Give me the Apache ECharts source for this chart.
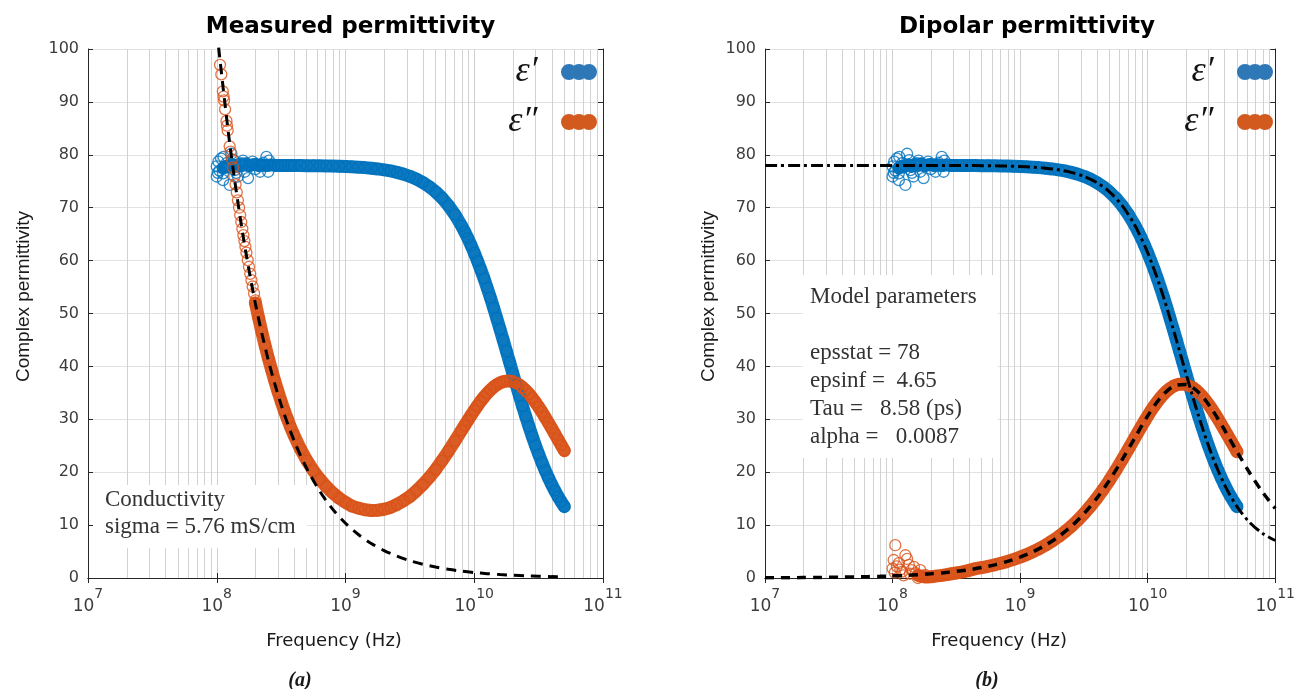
<!DOCTYPE html>
<html><head><meta charset="utf-8">
<script src="https://cdn.jsdelivr.net/npm/echarts@6/dist/echarts.min.js"></script>
<style>html,body{margin:0;padding:0;background:#fff}#c{width:1298px;height:689px}</style>
</head><body><div id="c"></div>
<script>
// ---------- data ----------
const bandFreq = [
 1.000e8, 1.059e8, 1.122e8, 1.189e8, 1.259e8, 1.334e8, 1.413e8, 1.496e8, 1.585e8, 1.679e8,
 1.778e8, 1.884e8, 1.995e8, 2.113e8, 2.239e8, 2.371e8, 2.512e8, 2.661e8, 2.818e8, 2.985e8,
 3.162e8, 3.350e8, 3.548e8, 3.758e8, 3.981e8,
 4.467e8, 5.012e8, 5.623e8, 6.310e8, 7.079e8, 7.943e8, 8.913e8, 1.000e9, 1.122e9, 1.259e9,
 1.413e9, 1.585e9, 1.778e9, 1.995e9, 2.239e9, 2.512e9, 2.818e9, 3.162e9, 3.548e9, 3.981e9,
 4.467e9, 5.012e9, 5.623e9, 6.310e9, 7.079e9,
 7.943e9, 8.414e9, 8.913e9, 9.441e9, 1.000e10, 1.059e10, 1.122e10, 1.189e10, 1.259e10, 1.334e10,
 1.413e10, 1.496e10, 1.585e10, 1.679e10, 1.778e10, 1.884e10, 1.995e10, 2.113e10, 2.239e10, 2.371e10,
 2.512e10, 2.661e10, 2.818e10, 2.985e10, 3.162e10, 3.350e10, 3.548e10, 3.758e10, 3.981e10, 4.217e10,
 4.467e10, 4.732e10, 5.012e10
];
const epsRealBand = [
 null, null, 77.5, 77.8, 77.9, 78.1, 77.8, 78.2, 78.0, 78.3, 77.9, 78.1, 78.2, 78.0, 78.1, 78.0, 78.0, 78.1, 78.0, 78.0,
 77.98, 77.97, 77.97, 77.96, 77.96,
 77.96, 77.95, 77.93, 77.92, 77.89, 77.87, 77.83, 77.79, 77.73, 77.66, 77.58, 77.47, 77.33, 77.16, 76.95,
 76.68, 76.35, 75.93, 75.41, 74.77, 73.98, 73.01, 71.83, 70.39, 68.68,
 66.63, 65.48, 64.24, 62.91, 61.48, 59.96, 58.35, 56.65, 54.87, 53.01, 51.08, 49.09, 47.05, 44.97, 42.87,
 40.76, 38.65, 36.57, 34.51, 32.49, 30.53, 28.64, 26.82, 25.08, 23.43, 21.86, 20.39, 19.02, 17.73, 16.54,
 15.44, 14.42, 13.49
];
const epsImagMeasBand = [
 null, null, null, null, null, null, null, null, null, null, null, null,
 52.0, 49.2, 46.5, 44.0, 41.6, 39.4, 37.3, 35.3, 33.4, 31.6, 30.0, 28.4, 27.0,
 24.4, 22.2, 20.3, 18.7, 17.3, 16.1, 15.1, 14.3, 13.6, 13.2, 12.9, 12.75, 12.8, 13.0, 13.35,
 13.9, 14.6, 15.4, 16.45, 17.65, 19.0, 20.5, 22.2, 24.0, 25.9,
 27.85, 28.82, 29.79, 30.75, 31.67, 32.56, 33.41, 34.19, 34.90, 35.54, 36.09, 36.54, 36.88, 37.11, 37.22,
 37.22, 37.10, 36.85, 36.50, 36.03, 35.46, 34.80, 34.05, 33.23, 32.34, 31.40, 30.41, 29.39, 28.34, 27.28,
 26.21, 25.14, 24.08
];
const epsImagDipBand = [
 null, null, null, null, null, null, null, null,
 0.5, 0.3, 0.2, 0.2, 0.25, 0.3, 0.4, 0.45, 0.55, 0.65, 0.75, 0.85, 0.95, 1.05, 1.15, 1.3, 1.45,
 1.77, 1.98, 2.22, 2.49, 2.80, 3.14, 3.52, 3.94, 4.42, 4.96, 5.55, 6.22, 6.97, 7.80, 8.73,
 9.75, 10.89, 12.15, 13.54, 15.05, 16.70, 18.47, 20.37, 22.36, 24.44,
 26.54, 27.59, 28.63, 29.65, 30.64, 31.59, 32.48, 33.32, 34.08, 34.77, 35.36, 35.84, 36.23, 36.49, 36.64,
 36.67, 36.58, 36.37, 36.04, 35.60, 35.05, 34.41, 33.68, 32.88, 32.01, 31.09, 30.12, 29.11, 28.08, 27.03,
 25.98, 24.93, 23.88
];
// noisy low-frequency readings [Hz, value]
const epsRealCluster = [
 [1.00e8, 77.8], [1.00e8, 75.9], [1.03e8, 78.7], [1.08e8, 79.3], [1.12e8, 76.5], [1.12e8, 75.2],
 [1.13e8, 79.6], [1.19e8, 78.4], [1.26e8, 74.3], [1.30e8, 80.2], [1.38e8, 77.1], [1.46e8, 75.9],
 [1.55e8, 78.4], [1.65e8, 76.8], [1.75e8, 75.6], [1.90e8, 78.7], [2.16e8, 77.8], [2.17e8, 76.8],
 [2.43e8, 79.6], [2.51e8, 76.8], [2.55e8, 78.9], [1.05e8, 77.0], [1.22e8, 77.6], [1.60e8, 78.9],
 [2.00e8, 77.3], [1.35e8, 79.0], [1.02e8, 76.6], [1.15e8, 77.8], [1.42e8, 76.6], [2.30e8, 78.5]
];
const epsImagMeasChain = [
 [1.06e8, 97.0], [1.085e8, 95.2], [1.115e8, 92.0], [1.13e8, 91.0], [1.14e8, 90.3], [1.16e8, 88.6],
 [1.19e8, 86.4], [1.20e8, 85.5], [1.215e8, 84.6], [1.26e8, 81.6], [1.28e8, 80.6], [1.31e8, 79.2],
 [1.34e8, 77.6], [1.37e8, 75.9], [1.40e8, 74.4], [1.43e8, 72.9], [1.46e8, 71.4], [1.49e8, 70.0],
 [1.52e8, 68.6], [1.55e8, 67.3], [1.58e8, 66.0], [1.61e8, 64.8], [1.64e8, 63.7], [1.67e8, 62.6],
 [1.70e8, 61.5], [1.74e8, 60.1], [1.78e8, 58.8], [1.82e8, 57.5], [1.86e8, 56.3], [1.90e8, 55.1],
 [1.95e8, 53.8], [2.00e8, 52.5]
];
const epsImagDipCluster = [
 [1.05e8, 6.2], [1.26e8, 4.3], [1.02e8, 3.4], [1.34e8, 2.5], [1.12e8, 2.8], [1.41e8, 1.5],
 [1.65e8, 1.5], [1.00e8, 1.8], [1.19e8, 1.2], [1.80e8, 0.6], [1.58e8, 0.0], [1.08e8, 2.2],
 [1.30e8, 3.6], [1.47e8, 2.1], [1.22e8, 0.5], [1.52e8, 0.9], [1.04e8, 1.0], [1.70e8, 0.3],
 [1.37e8, 0.8], [1.15e8, 1.6]
];
// fitted model curves
const modelFreq = [
 1.000e7, 1.259e7, 1.585e7, 1.995e7, 2.512e7, 3.162e7, 3.981e7, 5.012e7, 6.310e7, 7.943e7,
 1.000e8, 1.259e8, 1.585e8, 1.995e8, 2.512e8, 3.162e8, 3.981e8, 5.012e8, 6.310e8, 7.943e8,
 1.000e9, 1.259e9, 1.585e9, 1.995e9, 2.512e9, 3.162e9, 3.981e9, 5.012e9, 6.310e9, 7.943e9,
 1.000e10, 1.259e10, 1.585e10, 1.995e10, 2.512e10, 3.162e10, 3.981e10, 5.012e10, 6.310e10, 7.943e10,
 1.000e11
];
const modelReal = [
 78.0, 78.0, 78.0, 78.0, 78.0, 78.0, 78.0, 78.0, 78.0, 78.0, 78.0, 78.0, 78.0, 78.0, 78.0,
 77.98, 77.96, 77.95, 77.92, 77.87, 77.79, 77.66, 77.47, 77.16, 76.68, 75.93, 74.77, 73.01, 70.39, 66.63,
 61.48, 54.87, 47.05, 38.65, 30.53, 23.43, 17.73, 13.49, 10.49, 8.44, 7.09
];
const modelImag = [
 0.04, 0.05, 0.06, 0.08, 0.10, 0.13, 0.16, 0.20, 0.25, 0.31, 0.40,
 0.50, 0.63, 0.79, 0.99, 1.25, 1.57, 1.98, 2.49, 3.14, 3.94,
 4.96, 6.22, 7.80, 9.75, 12.15, 15.05, 18.47, 22.36, 26.54, 30.64,
 34.08, 36.23, 36.58, 35.05, 32.01, 28.08, 23.88, 19.85, 16.24, 13.15
];
const condFreq = [
 1.000e8, 1.259e8, 1.585e8, 1.995e8, 2.512e8, 3.162e8, 3.981e8, 5.012e8, 6.310e8, 7.943e8,
 1.000e9, 1.259e9, 1.585e9, 1.995e9, 2.512e9, 3.162e9, 3.981e9, 5.012e9, 6.310e9, 7.943e9,
 1.000e10, 1.259e10, 1.585e10, 1.995e10, 2.512e10, 3.162e10, 3.981e10, 5.012e10
];
const condVals = [
 103.5, 82.26, 65.34, 51.90, 41.22, 32.74, 26.01, 20.66, 16.41, 13.03,
 10.35, 8.22, 6.53, 5.19, 4.12, 3.27, 2.60, 2.07, 1.64, 1.30,
 1.04, 0.82, 0.65, 0.52, 0.41, 0.33, 0.26, 0.21
];
const minorGrid = [
 2e7, 3e7, 4e7, 5e7, 6e7, 7e7, 8e7, 9e7,
 2e8, 3e8, 4e8, 5e8, 6e8, 7e8, 8e8, 9e8,
 2e9, 3e9, 4e9, 5e9, 6e9, 7e9, 8e9, 9e9,
 2e10, 3e10, 4e10, 5e10, 6e10, 7e10, 8e10, 9e10
];
const titles = ['Measured permittivity', 'Dipolar permittivity'];
const captions = ['(a)', '(b)'];
const legendNames = ['ε′', 'ε″'];

// ---------- styling ----------
const BLUE = '#0072BD', ORANGE = '#D95319';
const AX = '#262626', LAB = '#3c3c3c';
const GRIDS = [{left: 88, top: 49, width: 515, height: 529}, {left: 765, top: 49, width: 514, height: 529}];
const XNAME_PAD = [[0, 23, 0, 0], [0, 42, 0, 0]];
const ICON = 'path://M8,0A8,8,0,1,1,8,16A8,8,0,1,1,8,0Z M18,0A8,8,0,1,1,18,16A8,8,0,1,1,18,0Z M28,0A8,8,0,1,1,28,16A8,8,0,1,1,28,0Z';

function pairs(fr, vals) { return fr.map((f, i) => [f, vals[i]]).filter(p => p[1] != null); }

const xAxes = [], yAxes = [];
GRIDS.forEach((g, gi) => {
  xAxes.push({
    type: 'log', logBase: 10, gridIndex: gi, min: 1e7, max: 1e11, position: 'bottom',
    axisLine: {show: true, lineStyle: {color: AX, width: 1}},
    axisTick: {show: true, inside: true, length: 5, lineStyle: {color: AX}},
    axisLabel: {
      margin: 9,
      formatter: v => '{b|10}{s|' + Math.round(Math.log10(v)) + '}',
      rich: {
        b: {fontSize: 17, fontFamily: 'DejaVu Sans', color: LAB, lineHeight: 28, verticalAlign: 'bottom'},
        s: {fontSize: 14, fontFamily: 'DejaVu Sans', color: LAB, lineHeight: 14, verticalAlign: 'top'}
      }
    },
    splitLine: {show: true, lineStyle: {color: '#cfcfcf', width: 1}},
    name: 'Frequency (Hz)', nameLocation: 'middle', nameGap: 54,
    nameTextStyle: {fontFamily: 'DejaVu Sans', fontSize: 18, color: '#1a1a1a', padding: XNAME_PAD[gi]}
  });
  xAxes.push({
    type: 'log', logBase: 10, gridIndex: gi, min: 1e7, max: 1e11, position: 'top',
    axisLine: {show: true, lineStyle: {color: AX, width: 1}},
    axisTick: {show: true, inside: true, length: 5, lineStyle: {color: AX}},
    axisLabel: {show: false}, splitLine: {show: false}
  });
  yAxes.push({
    type: 'value', gridIndex: gi, min: 0, max: 100, interval: 10, position: 'left',
    axisLine: {show: true, lineStyle: {color: AX, width: 1}},
    axisTick: {show: true, inside: true, length: 5, lineStyle: {color: AX}},
    axisLabel: {margin: 9, fontSize: 16, fontFamily: 'DejaVu Sans', color: LAB},
    splitLine: {show: true, lineStyle: {color: '#e2e2e2', width: 1}},
    name: 'Complex permittivity', nameLocation: 'middle', nameGap: gi === 0 ? 55 : 47,
    nameTextStyle: {fontFamily: 'Liberation Sans', fontSize: 19, color: '#1a1a1a', padding: [0, 0, 0, 34]}
  });
  yAxes.push({
    type: 'value', gridIndex: gi, min: 0, max: 100, interval: 10, position: 'right',
    axisLine: {show: true, lineStyle: {color: AX, width: 1}},
    axisTick: {show: true, inside: true, length: 5, lineStyle: {color: AX}},
    axisLabel: {show: false}, splitLine: {show: false}
  });
});

function minorSeries(gi) {
  return {
    type: 'line', xAxisIndex: gi * 2, yAxisIndex: gi * 2, data: [], silent: true, z: 1,
    markLine: {
      silent: true, z: 1, animation: false, symbol: ['none', 'none'], label: {show: false},
      lineStyle: {color: '#d2d2d2', width: 1, type: 'solid'}, emphasis: {disabled: true},
      data: minorGrid.map(v => ({xAxis: v}))
    }
  };
}
function band(gi, name, color, data) {
  return {
    type: 'line', name, xAxisIndex: gi * 2, yAxisIndex: gi * 2, data, z: 3,
    symbol: 'circle', symbolSize: 11, showSymbol: true, silent: true,
    itemStyle: {color: 'rgba(0,0,0,0)', borderColor: color, borderWidth: 1.3},
    lineStyle: {color, width: 13, opacity: 0.95, cap: 'round', join: 'round'},
    emphasis: {disabled: true}
  };
}
function cloud(gi, name, color, data) {
  return {
    type: 'scatter', name, xAxisIndex: gi * 2, yAxisIndex: gi * 2, data, z: 3,
    symbol: 'circle', symbolSize: 11, silent: true,
    itemStyle: {color: 'rgba(0,0,0,0)', borderColor: color, borderWidth: 1.3},
    emphasis: {disabled: true}
  };
}
function blackLine(gi, data, dash, width) {
  return {
    type: 'line', xAxisIndex: gi * 2, yAxisIndex: gi * 2, data, z: 5, smooth: 0.3,
    symbol: 'none', silent: true,
    lineStyle: {color: '#000', width, type: dash}, emphasis: {disabled: true}
  };
}

const series = [
  minorSeries(0), minorSeries(1),
  // (a) measured
  band(0, legendNames[0], BLUE, pairs(bandFreq, epsRealBand)),
  cloud(0, legendNames[0], BLUE, epsRealCluster),
  band(0, legendNames[1], ORANGE, pairs(bandFreq, epsImagMeasBand)),
  cloud(0, legendNames[1], ORANGE, epsImagMeasChain),
  blackLine(0, pairs(condFreq, condVals), [10, 7], 3),
  // (b) dipolar
  band(1, legendNames[0], BLUE, pairs(bandFreq, epsRealBand)),
  cloud(1, legendNames[0], BLUE, epsRealCluster),
  band(1, legendNames[1], ORANGE, pairs(bandFreq, epsImagDipBand)),
  cloud(1, legendNames[1], ORANGE, epsImagDipCluster),
  blackLine(1, pairs(modelFreq, modelReal), [12, 4, 3, 4], 3),
  blackLine(1, pairs(modelFreq, modelImag), [9, 7], 3.5)
];

function legendAt(right) {
  return {
    data: [
      {name: legendNames[0], icon: ICON, itemStyle: {color: '#2f78b8', borderWidth: 0}},
      {name: legendNames[1], icon: ICON, itemStyle: {color: '#d25a1f', borderWidth: 0}}
    ],
    orient: 'vertical', align: 'right', right, top: 54, padding: 0,
    itemWidth: 37, itemHeight: 16, itemGap: 14, selectedMode: false,
    textStyle: {fontFamily: 'Liberation Serif', fontStyle: 'italic', fontSize: 36, color: '#111',
                lineHeight: 36, padding: [0, 18, 0, 0]}
  };
}

const option = {
  animation: false,
  backgroundColor: '#fff',
  title: titles.map((t, i) => ({
    text: t, left: GRIDS[i].left + GRIDS[i].width / 2, top: 11, textAlign: 'center',
    textStyle: {fontFamily: 'DejaVu Sans', fontWeight: 'bold', fontSize: 23, color: '#000'}
  })),
  legend: [legendAt(701), legendAt(25)],
  grid: GRIDS.map(g => Object.assign({containLabel: false}, g)),
  xAxis: xAxes, yAxis: yAxes, series,
  graphic: {elements: [
    {type: 'rect', shape: {x: 93, y: 485, width: 214, height: 63}, style: {fill: '#fff'}, z: 2, silent: true},
    {type: 'text', z: 2, silent: true, style: {
      text: 'Conductivity\nsigma = 5.76 mS/cm', x: 105, y: 486.5,
      font: '23px "Liberation Serif"', fill: '#333', lineHeight: 27, verticalAlign: 'top'}},
    {type: 'rect', shape: {x: 803, y: 275, width: 195, height: 183}, style: {fill: '#fff'}, z: 2, silent: true},
    {type: 'text', z: 2, silent: true, style: {
      text: 'Model parameters\n\nepsstat = 78\nepsinf =  4.65\nTau =   8.58 (ps)\nalpha =   0.0087',
      x: 810, y: 282.5, font: '23px "Liberation Serif"', fill: '#333', lineHeight: 28, verticalAlign: 'top'}},
    {type: 'text', silent: true, style: {text: captions[0], x: 300, y: 691, align: 'center', verticalAlign: 'bottom',
      font: 'italic bold 20px "Liberation Serif"', fill: '#1a1a1a'}},
    {type: 'text', silent: true, style: {text: captions[1], x: 987, y: 691, align: 'center', verticalAlign: 'bottom',
      font: 'italic bold 20px "Liberation Serif"', fill: '#1a1a1a'}}
  ]}
};
const chart = echarts.init(document.getElementById('c'), null, {renderer: 'canvas'});
chart.setOption(option);
</script></body></html>
